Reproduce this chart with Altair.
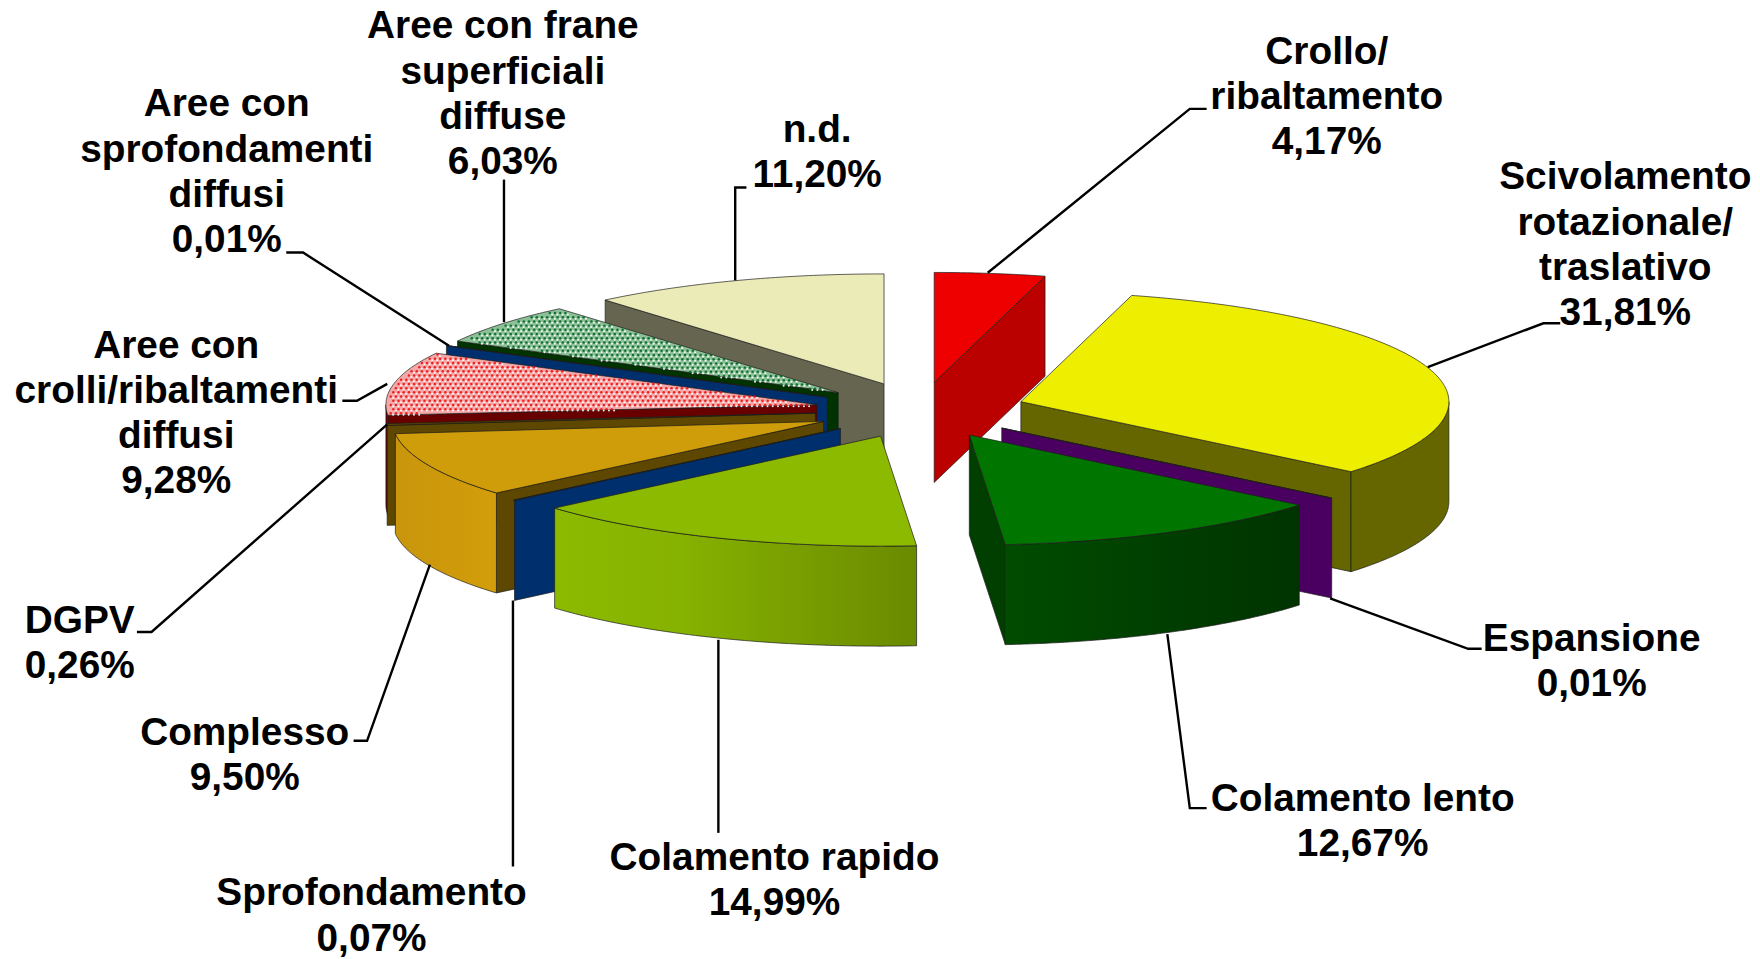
import math
import altair as alt

# ---- chart data ----------------------------------------------------------
names = ["Crollo/\nribaltamento", "Scivolamento\nrotazionale/\ntraslativo", "Espansione",
         "Colamento lento", "Colamento rapido", "Sprofondamento", "Complesso", "DGPV",
         "Aree con\ncrolli/ribaltamenti\ndiffusi", "Aree con\nsprofondamenti\ndiffusi",
         "Aree con frane\nsuperficiali\ndiffuse", "n.d."]
values = [4.17, 31.81, 0.01, 12.67, 14.99, 0.07, 9.50, 0.26, 9.28, 0.01, 6.03, 11.20]
top_colors = ["#ee0000", "#eeee00", "#4a0060", "#007500", "#8cba00", "#002f6d",
              "#cf9c0a", "#5e4700", "#f4a8a8", "#002f6d", "#8cc096", "#ebebb8"]
side_colors = ["#bb0000", "#666600", "#4a0060", "#003f00", "#6b8c00", "#002f6d",
               "#5e4700", "#5e4700", "#680000", "#002f6d", "#003300", "#666650"]
wall_gradients = {
    1: [("#666600", 0), ("#666600", 1)],
    3: [("#004c00", 0), ("#003300", 1)],
    4: [("#8cba00", 0), ("#86b200", 0.35), ("#6a8a00", 1)],
    6: [("#c9950c", 0), ("#d29e0a", 1)],
}
# back-to-front drawing order
draw_order = [11, 0, 10, 9, 8, 7, 6, 5, 4, 1, 2, 3]
# label centre x, first line centre y (reference, shrunk picture units)
label_x = [1182, 1448, 1418, 1214, 690, 331, 218, 71, 157, 202, 448, 728]
label_y = [46, 158, 569, 712, 764, 796, 653, 553, 308, 93, 23.5, 116]
# leader lines (reference, shrunk picture units)
leaders = [
    [(880, 243), (1060, 97), (1075, 97)],
    [(1272, 327), (1375, 288), (1390, 288)],
    [(1185, 533), (1308, 578), (1320, 578)],
    [(1040, 565), (1060, 720), (1075, 720)],
    [(640, 570), (640, 742)],
    [(457, 535), (457, 772)],
    [(383, 503), (327, 660), (315, 660)],
    [(345, 378), (135, 563), (122, 563)],
    [(345, 342), (318, 357), (305, 357)],
    [(400, 308), (270, 225), (255, 225)],
    [(449, 287), (449, 160)],
    [(655, 250), (655, 167), (665, 167)],
]

# ---- pie geometry parameters ----------------------------------------------
K = 1760 / 1568
CX, CY = 920.4 - 8, 410.2 - 8
RX_LEFT, RX_RIGHT, RY = 431.0, 428.0, 110.0
EX, EY = 105.5, 28.0
DEPTH = 100.0
LINE_STEP = 40.3 * K
FONT = 38.8


def rx(a):
    return RX_RIGHT if math.sin(math.radians(a)) >= 0 else RX_LEFT


def pos(a, ox, oy, dz=0.0):
    r = math.radians(a)
    return [ox + rx(a) * math.sin(r), oy - RY * math.cos(r) + dz]


def arc(a0, a1, ox, oy, dz=0.0):
    n = max(2, int(abs(a1 - a0) * 2))
    return [pos(a0 + (a1 - a0) * i / n, ox, oy, dz) for i in range(n + 1)]


def feature(coords):
    ring = coords + [coords[0]]
    return {"type": "Feature", "properties": {},
            "geometry": {"type": "Polygon", "coordinates": [ring]}}


PROJ = dict(type="identity", scale=1, translate=[0, 0])


def shape(coords, fill):
    return (alt.Chart(alt.InlineData(values=[feature(coords)]))
            .mark_geoshape(fill=fill, stroke="#1c1c1c", strokeWidth=0.7)
            .project(**PROJ))


def texture(a0, a1, ox, oy, dark, light):
    dots_d, dots_l = [], []
    sx, sy = 5.2, 4.2
    for row in range(0, 80):
        for col in range(0, 110):
            x = ox - 460 + col * sx + (row % 2) * sx / 2
            y = oy - 130 + row * sy
            u, v = (x - ox) / RX_LEFT, (oy - y) / RY
            if u * u + v * v > 0.985:
                continue
            ang = math.degrees(math.atan2(u, v)) % 360
            if a0 + 0.6 < ang < a1 - 0.4:
                dots_d.append({"lon": x, "lat": y})
                dots_l.append({"lon": x + 2.4, "lat": y + 1.4})
    out = []
    for pts, col, size in ((dots_l, light, 4), (dots_d, dark, 6)):
        out.append(alt.Chart(alt.InlineData(values=pts))
                   .mark_circle(color=col, size=size, opacity=0.9)
                   .encode(longitude="lon:Q", latitude="lat:Q")
                   .project(**PROJ))
    return out


starts = []
acc = 0.0
for v in values:
    starts.append(acc)
    acc += v * 3.6

layers = []
for i in draw_order:
    a0 = starts[i]
    a1 = a0 + values[i] * 3.6
    mid = (a0 + a1) / 2
    r = math.radians(mid)
    ox = CX + EX * math.sin(r)
    oy = CY - EY * math.cos(r)
    apex = [ox, oy]
    apex_low = [ox, oy + DEPTH]
    # the radial cut face that looks at the viewer
    if math.sin(math.radians(a0)) < 0:
        layers.append(shape([apex, pos(a0, ox, oy), pos(a0, ox, oy, DEPTH), apex_low], side_colors[i]))
    if math.sin(math.radians(a1)) > 0:
        layers.append(shape([apex, pos(a1, ox, oy), pos(a1, ox, oy, DEPTH), apex_low], side_colors[i]))
    # outer rounded wall
    w0, w1 = max(a0, 90), min(a1, 270)
    if w1 - w0 > 1:
        poly = arc(w0, w1, ox, oy) + arc(w1, w0, ox, oy, DEPTH)
        if i in wall_gradients:
            fill = alt.LinearGradient(gradient="linear", x1=0, x2=1, y1=0, y2=0,
                                      stops=[alt.GradientStop(color=c, offset=o)
                                             for c, o in wall_gradients[i]])
        else:
            fill = side_colors[i]
        layers.append(shape(poly, fill))
    # top face
    layers.append(shape([apex] + arc(a0, a1, ox, oy), top_colors[i]))
    if i == 8:
        layers += texture(a0, a1, ox, oy, "#f01010", "#ffffff")
    if i == 10:
        layers += texture(a0, a1, ox, oy, "#06662a", "#ffffff")

# leader lines
for pts in leaders:
    line = {"type": "Feature", "properties": {},
            "geometry": {"type": "LineString",
                         "coordinates": [[x * K - 8, y * K - 8] for x, y in pts]}}
    layers.append(alt.Chart(alt.InlineData(values=[line]))
                  .mark_geoshape(filled=False, stroke="black", strokeWidth=2.4)
                  .project(**PROJ))

# labels
rows = []
for i, name in enumerate(names):
    parts = name.split("\n") + [f"{values[i]:.2f}%".replace(".", ",")]
    for j, t in enumerate(parts):
        rows.append({"lon": label_x[i] * K - 8,
                     "lat": label_y[i] * K - 8 + j * LINE_STEP,
                     "t": t})
layers.append(alt.Chart(alt.InlineData(values=rows))
              .mark_text(font="Liberation Sans", fontWeight="bold", fontSize=FONT,
                         color="black", align="center", baseline="middle")
              .encode(longitude="lon:Q", latitude="lat:Q", text="t:N")
              .project(**PROJ))

chart = (alt.layer(*layers)
         .properties(width=1744, height=951, padding=0, background="white",
                     autosize=alt.AutoSizeParams(type="none"))
         .configure_view(stroke=None))
chart.save("out.html", embed_options={"renderer": "svg", "actions": False})
